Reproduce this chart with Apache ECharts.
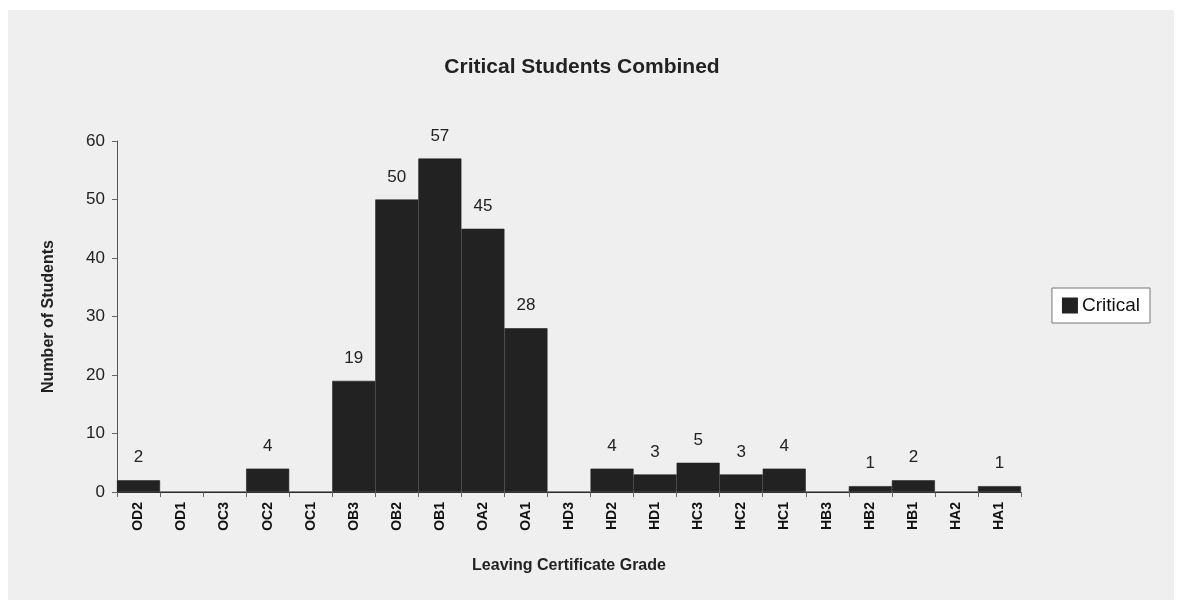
<!DOCTYPE html>
<html>
<head>
<meta charset="utf-8">
<script src="https://cdn.jsdelivr.net/npm/echarts@6/dist/echarts.min.js"></script>
<style>
html, body { margin: 0; padding: 0; background: #fff; }
#chart { position: absolute; left: 8px; top: 10px; width: 1166px; height: 590px; background: #efefef; }
</style>
</head>
<body>
<div id="chart"></div>
<script>
var grades = ['OD2', 'OD1', 'OC3', 'OC2', 'OC1', 'OB3', 'OB2', 'OB1', 'OA2', 'OA1', 'HD3',
    'HD2', 'HD1', 'HC3', 'HC2', 'HC1', 'HB3', 'HB2', 'HB1', 'HA2', 'HA1'];
var critical = [2, 0, 0, 4, 0, 19, 50, 57, 45, 28, 0, 4, 3, 5, 3, 4, 0, 1, 2, 0, 1];
var yTicks = [0, 10, 20, 30, 40, 50, 60];

var font = 'Liberation Sans, Arial, sans-serif';
var chart = echarts.init(document.getElementById('chart'));
chart.setOption({
    animation: false,
    textStyle: { fontFamily: font },
    title: {
        text: 'Critical Students Combined',
        left: 569, top: 42, textAlign: 'center',
        textStyle: { fontSize: 21, fontWeight: 'bold', color: '#222', fontFamily: font }
    },
    legend: {
        data: [{ name: 'Critical', icon: 'rect' }],
        right: 24, top: 278,
        orient: 'vertical',
        itemWidth: 14, itemHeight: 14, itemGap: 4,
        padding: [8, 10, 8, 10],
        borderColor: '#777', borderWidth: 1,
        backgroundColor: '#fff',
        textStyle: { fontSize: 19, color: '#111', fontFamily: font, padding: [0, 0, 0, 0] }
    },
    grid: { left: 109, right: 153, top: 131, bottom: 108 },
    xAxis: {
        type: 'category',
        data: grades,
        name: 'Leaving Certificate Grade',
        nameLocation: 'middle',
        nameGap: 66,
        nameTextStyle: { fontSize: 16, fontWeight: 'bold', color: '#222' },
        axisLine: { lineStyle: { color: '#333' } },
        axisTick: { show: true, length: 5, lineStyle: { color: '#666' } },
        axisLabel: { rotate: 90, fontSize: 14, fontWeight: 'bold', color: '#111', margin: 10, interval: 0 }
    },
    yAxis: {
        type: 'value',
        min: 0, max: 60, interval: 10,
        name: 'Number of Students',
        nameLocation: 'middle',
        nameGap: 60,
        nameTextStyle: { fontSize: 16, fontWeight: 'bold', color: '#222' },
        axisLine: { show: true, lineStyle: { color: '#555' } },
        axisTick: { show: true, length: 5, lineStyle: { color: '#666' } },
        splitLine: { show: false },
        axisLabel: {
            fontSize: 17, color: '#222', margin: 12,
            formatter: function (v) { return yTicks.indexOf(v) >= 0 ? String(v) : ''; }
        }
    },
    series: [{
        name: 'Critical',
        type: 'bar',
        data: critical,
        barCategoryGap: '0%',
        itemStyle: { color: '#222', borderColor: '#222', borderWidth: 0.6 },
        label: {
            show: true, position: 'top', distance: 14,
            fontSize: 17, color: '#222',
            formatter: function (p) { return p.value > 0 ? p.value : ''; }
        }
    }]
});
</script>
</body>
</html>
